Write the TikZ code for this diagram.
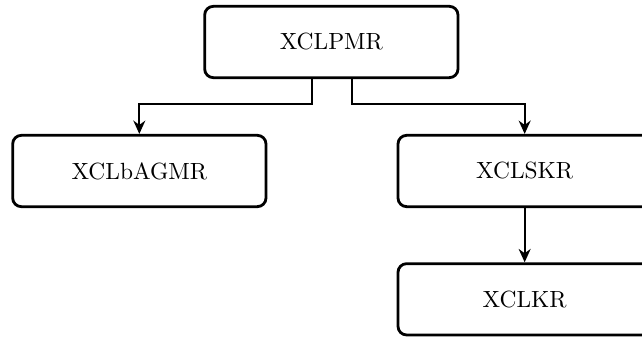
\documentclass[tikz,border=0pt]{standalone}
\usetikzlibrary{arrows.meta}
\tikzset{
  box/.style={draw,very thick,rounded corners=0.13cm,minimum width=3.8cm,minimum height=1.07cm,align=center},
  link/.style={thick,-{Stealth[length=2mm,width=1.8mm]}}
}
\begin{document}
\begin{tikzpicture}
  \useasboundingbox (0,0) rectangle (9.63,-5.055);
  \node[box] (pmr) at (4.97,-0.63) {XCLPMR};
  \node[box] (bagmr) at (2.09,-2.565) {XCLbAGMR};
  \node[box] (skr) at (7.87,-2.565) {XCLSKR};
  \node[box] (kr) at (7.87,-4.49) {XCLKR};
  \draw[link] ([xshift=-0.29cm]pmr.south) -- ++(0,-0.375) -| (bagmr.north);
  \draw[link] ([xshift=0.31cm]pmr.south) -- ++(0,-0.375) -| (skr.north);
  \draw[link] (skr) -- (kr);
\end{tikzpicture}
\end{document}
